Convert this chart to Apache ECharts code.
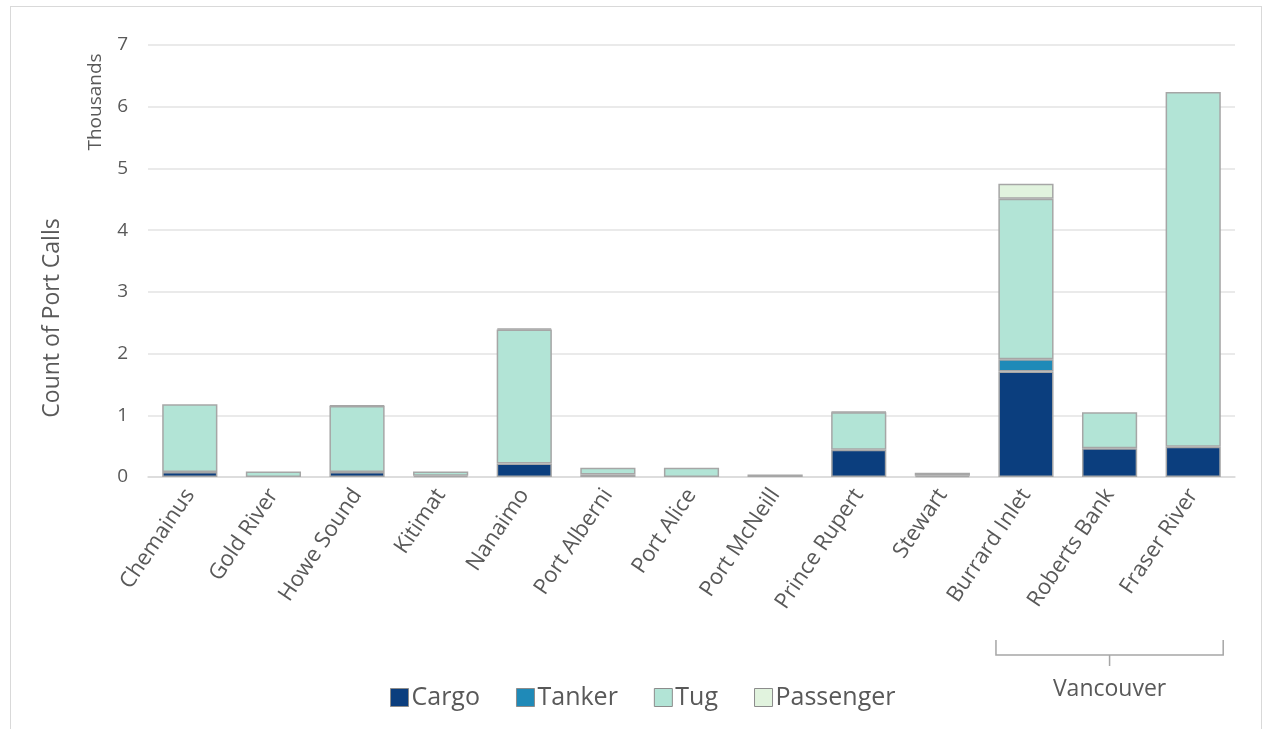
<!DOCTYPE html>
<html>
<head>
<meta charset="utf-8">
<script src="https://cdn.jsdelivr.net/npm/echarts@6/dist/echarts.min.js"></script>
<style>
  html, body { margin: 0; padding: 0; background: #fff; }
  #frame { position: absolute; left: 10px; top: 6px; width: 1252px; height: 740px; border: 1px solid #d9d9d9; box-sizing: border-box; }
  #chart { width: 1272px; height: 729px; }
</style>
</head>
<body>
<div id="frame"></div>
<div id="chart"></div>
<script>
// port names
const ports = ["Chemainus", "Gold River", "Howe Sound", "Kitimat", "Nanaimo", "Port Alberni",
  "Port Alice", "Port McNeill", "Prince Rupert", "Stewart", "Burrard Inlet", "Roberts Bank", "Fraser River"];
// values in thousands of port calls
const cargo     = [0.08, 0.00, 0.08, 0.02, 0.22, 0.04, 0.00, 0.04, 0.44, 0.02, 1.71, 0.465, 0.49];
const tanker    = [0.00, 0.00, 0.00, 0.00, 0.00, 0.00, 0.00, 0.00, 0.00, 0.00, 0.20, 0.00, 0.00];
const tug       = [1.10, 0.09, 1.07, 0.07, 2.17, 0.11, 0.15, 0.00, 0.61, 0.05, 2.60, 0.585, 5.75];
const passenger = [0.00, 0.00, 0.01, 0.00, 0.02, 0.00, 0.00, 0.00, 0.01, 0.00, 0.24, 0.00, 0.00];
const yTicks = [0, 7, 1]; // min, max, interval
const groupLabel = "Vancouver";
const groupFrom = "Burrard Inlet", groupTo = "Fraser River";

const fontFamily = "'Open Sans', 'Noto Sans', sans-serif";
const textColor = "#595959";
const colors = ["#0b3e7e", "#1f8ab8", "#b2e4d6", "#e1f3de"];

const chart = echarts.init(document.getElementById("chart"));

function bar(name, data, color) {
  return {
    name, type: "bar", stack: "total",
    data: data.map(v => (v > 0 ? v : "-")), // skip empty segments so no stray border
    barWidth: "66%",
    itemStyle: { color, borderColor: "#a6a6a6", borderWidth: 1.5 },
    emphasis: { disabled: true }
  };
}

chart.setOption({
  animation: false,
  textStyle: { fontFamily },
  grid: { left: 148, right: 37, top: 45, bottom: 252, containLabel: false },
  legend: {
    bottom: 14, left: 385,
    icon: "rect", itemWidth: 18, itemHeight: 18, itemGap: 36,
    textStyle: { fontSize: 25, color: textColor, fontFamily, padding: [0, 0, 0, -2] },
    data: ["Cargo", "Tanker", "Tug", "Passenger"].map((n, i) => ({
      name: n, itemStyle: { color: colors[i], borderColor: "#8c8c8c", borderWidth: 1 }
    }))
  },
  xAxis: {
    type: "category", data: ports,
    axisLine: { lineStyle: { color: "#d9d9d9", width: 1.5 } },
    axisTick: { show: false },
    axisLabel: { rotate: 56, fontSize: 22, color: textColor, margin: 14, interval: 0 }
  },
  yAxis: {
    type: "value", min: yTicks[0], max: yTicks[1], interval: yTicks[2],
    axisLabel: { fontSize: 19, color: textColor, margin: 20 },
    splitLine: { lineStyle: { color: "#e3e3e3", width: 1.5 } },
    axisLine: { show: false }, axisTick: { show: false }
  },
  series: [
    bar("Cargo", cargo, colors[0]),
    bar("Tanker", tanker, colors[1]),
    bar("Tug", tug, colors[2]),
    bar("Passenger", passenger, colors[3])
  ]
});

// axis titles and the Vancouver bracket, placed from axis pixels
const yTop = chart.convertToPixel({ yAxisIndex: 0 }, yTicks[1]);
const x1 = chart.convertToPixel({ xAxisIndex: 0 }, groupFrom) - 30;
const x2 = chart.convertToPixel({ xAxisIndex: 0 }, groupTo) + 30;
const xm = (x1 + x2) / 2;
const by = 655;
chart.setOption({
  graphic: [
    {
      type: "text", x: 52, y: 318, rotation: Math.PI / 2,
      style: { text: "Count of Port Calls", fontSize: 23, fill: textColor, fontFamily, align: "center", verticalAlign: "middle" }
    },
    {
      type: "text", x: 96, y: yTop + 57, rotation: Math.PI / 2,
      style: { text: "Thousands", fontSize: 19, fill: textColor, fontFamily, align: "center", verticalAlign: "middle" }
    },
    {
      type: "polyline",
      shape: { points: [[x1, by - 15], [x1, by], [xm, by], [xm, by + 11], [xm, by], [x2, by], [x2, by - 15]] },
      style: { stroke: "#a6a6a6", lineWidth: 1.5, fill: null }
    },
    {
      type: "text", x: xm, y: by + 34,
      style: { text: groupLabel, fontSize: 23, fill: textColor, fontFamily, align: "center", verticalAlign: "middle" }
    }
  ]
});
</script>
</body>
</html>
